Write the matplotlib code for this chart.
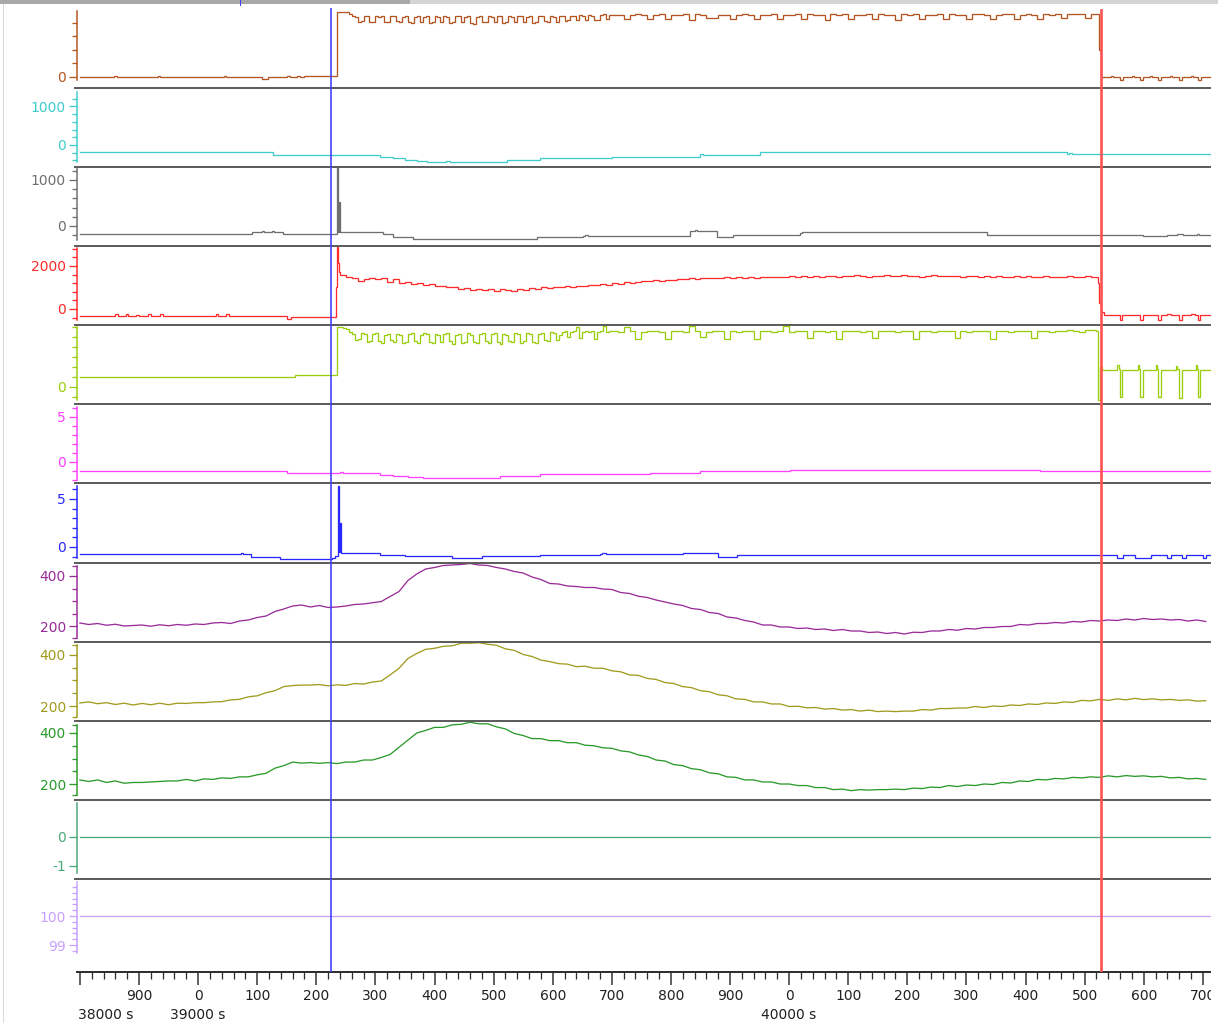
import numpy as np
import matplotlib
matplotlib.use('Agg')
import matplotlib.pyplot as plt
from matplotlib.lines import Line2D
from matplotlib.patches import Rectangle
from matplotlib.transforms import blended_transform_factory

plt.rcParams['font.family'] = ['DejaVu Sans']
plt.rcParams['font.size'] = 10

# ---------------- data ----------------
t15 = np.arange(38800, 40720, 15)          # sampling grid of the smooth channels
t5_dense = np.arange(39240, 39700, 5)      # dense segment grid
t10_high = np.arange(39700, 40530, 10)     # sparse segment grid
t10_red = np.arange(39240, 40530, 10)

brown_pre_t = [38800, 38858, 38862, 38932, 38936, 39043, 39047, 39108, 39118, 39150, 39156, 39168, 39172, 39180, 39235]
brown_pre_v = [0, 60, 0, 60, 0, 50, 0, -130, -20, 80, -10, 80, 20, 90, 4850]
brown_dense_v = [4850, 4800, 4780, 4700,
                 4500, 4450, 4100, 4150, 4500, 4550, 4050, 4100,
                 4500, 4450, 4500, 4050, 4100, 4500, 4550, 4150,
                 4050, 4450, 4500, 4100, 4000, 4450, 4500, 4050,
                 4450, 4500, 4000, 4050, 4500, 4450, 4100, 4500,
                 4450, 4000, 4050, 4500, 4550, 4050, 4450, 4500,
                 4000, 3950, 4450, 4500, 4050, 4100, 4500, 4450,
                 4050, 4500, 4550, 4000, 4050, 4500, 4450, 4100,
                 4500, 4550, 4050, 4450, 4500, 4000, 4100, 4500,
                 4550, 4150, 4100, 4500, 4450, 4050, 4550, 4500,
                 4150, 4200, 4550, 4500, 4200, 4600, 4550, 4250,
                 4600, 4550, 4200, 4250, 4600, 4650, 4300, 4600]
brown_high_v = [4600, 4620, 4300, 4600, 4650, 4600, 4280, 4600,
                4650, 4300, 4600, 4600, 4700, 4250, 4650, 4600,
                4350, 4400, 4600, 4620, 4280, 4600, 4650, 4600,
                4300, 4620, 4600, 4650, 4300, 4600, 4620, 4700,
                4300, 4650, 4600, 4620, 4250, 4650, 4600, 4650,
                4300, 4600, 4620, 4650, 4280, 4650, 4600, 4620,
                4250, 4650, 4600, 4650, 4300, 4620, 4600, 4650,
                4280, 4650, 4620, 4600, 4300, 4650, 4650, 4620,
                4280, 4600, 4650, 4650, 4300, 4620, 4650, 4600,
                4300, 4650, 4620, 4700, 4350, 4650, 4700, 4650,
                4400, 4700, 4650]
brown_post_t = [40524, 40527, 40545, 40548, 40560, 40565, 40580, 40584, 40594, 40599, 40610, 40614, 40625,
                40630, 40645, 40648, 40660, 40665, 40680, 40684, 40692, 40697, 40725]
brown_post_v = [2000, 30, 60, 20, -200, 20, 70, 20, -200, 30, 60, 20, -220,
                20, 60, 20, -200, 30, 70, 20, -200, 30, 30]

cyan_t = [38800, 38836, 38842, 39003, 39030, 39127, 39308, 39330, 39350, 39370, 39388, 39420, 39426,
          39516, 39523, 39578, 39700, 39849, 39855, 39951, 40470, 40474, 40478, 40725]
cyan_v = [-190, -170, -190, -170, -190, -256, -300, -340, -380, -410, -435, -410, -435,
          -435, -384, -333, -300, -230, -250, -190, -230, -210, -230, -230]

gray_t = [38800, 39091, 39108, 39112, 39125, 39129, 39144, 39235, 39237, 39239, 39240, 39242, 39313, 39330,
          39364, 39421, 39516, 39573, 39651, 39655, 39660, 39832, 39840, 39845, 39871, 39878, 39905, 40018,
          40021, 40335, 40599, 40640, 40656, 40667, 40690, 40694, 40725]
gray_v = [-180, -137, -110, -137, -110, -137, -180, 1400, -137, 525, -120, -137, -180, -232,
          -275, -290, -275, -245, -217, -200, -217, -110, -90, -110, -100, -232, -195, -160,
          -140, -195, -215, -195, -170, -195, -170, -195, -195]

red_pre_t = [38800, 38860, 38864, 38878, 38882, 38895, 38900, 38915, 38920, 38935, 38940, 39030, 39034,
             39048, 39052, 39150, 39158, 39233, 39235, 39237, 39238]
red_pre_v = [-330, -250, -330, -240, -330, -260, -330, -250, -330, -240, -330, -250, -330,
             -250, -330, -450, -380, 1000, 2900, 2140, 1700]
red_high_v = [1580, 1500, 1450, 1280, 1400, 1420, 1380, 1420, 1250, 1380,
              1210, 1260, 1150, 1200, 1100, 1140, 1050, 1080, 1000, 1040,
              950, 990, 900, 940, 880, 920, 860, 910, 880, 850,
              920, 880, 960, 940, 1000, 980, 1030, 1010, 1060, 1040,
              1090, 1070, 1120, 1100, 1150, 1130, 1200, 1180, 1250, 1230,
              1260, 1300, 1280, 1330, 1310, 1370, 1340, 1400, 1380, 1420,
              1400, 1440, 1420, 1460, 1430, 1470, 1440, 1480, 1450, 1500,
              1460, 1490, 1470, 1510, 1480, 1500, 1520, 1490, 1530, 1510,
              1540, 1500, 1530, 1550, 1510, 1540, 1520, 1560, 1530, 1500,
              1550, 1530, 1560, 1520, 1540, 1570, 1530, 1550, 1510, 1540,
              1560, 1530, 1550, 1520, 1540, 1500, 1530, 1550, 1510, 1520,
              1500, 1530, 1490, 1510, 1540, 1500, 1520, 1480, 1510, 1530,
              1490, 1510, 1500, 1530, 1480, 1500, 1520, 1490, 1510]
red_post_t = [40522, 40525, 40528, 40532, 40560, 40564, 40594, 40598, 40625, 40629, 40640, 40646,
              40660, 40664, 40680, 40686, 40692, 40696, 40725]
red_post_v = [1200, 300, -150, -300, -500, -300, -500, -300, -500, -300, -230, -300,
              -500, -300, -230, -300, -500, -300, -300]

yg_pre_t = [38800, 39164, 39235]
yg_pre_v = [20, 24, 120]
yg_dense_v = [120, 118, 116, 110,
              106, 94, 96, 108, 106, 90, 92, 106,
              108, 92, 88, 104, 106, 94, 90, 106,
              104, 88, 90, 106, 108, 92, 88, 104,
              108, 106, 90, 88, 106, 104, 90, 106,
              108, 92, 86, 104, 106, 88, 90, 108,
              104, 90, 88, 106, 108, 92, 88, 106,
              108, 90, 86, 106, 104, 92, 90, 108,
              106, 88, 92, 108, 106, 90, 88, 106,
              108, 94, 92, 110, 108, 94, 104, 110,
              112, 100, 110, 112, 120, 98, 110, 112,
              110, 112, 96, 110, 112, 122, 110, 112]
yg_high_v = [112, 110, 120, 112, 96, 110, 112, 112,
             110, 96, 112, 112, 110, 122, 112, 100,
             110, 112, 112, 96, 112, 110, 112, 112,
             96, 112, 112, 110, 112, 122, 110, 112,
             112, 98, 112, 112, 110, 112, 96, 112,
             112, 112, 110, 112, 98, 112, 112, 112,
             110, 112, 112, 96, 112, 112, 110, 112,
             112, 112, 98, 112, 110, 112, 112, 112,
             96, 112, 112, 110, 112, 112, 112, 98,
             112, 112, 110, 112, 112, 114, 112, 110,
             114, 114, 112]
yg_post_t = [40523, 40526, 40530, 40555, 40558, 40560, 40564, 40590, 40592, 40594, 40598, 40620, 40622,
             40625, 40629, 40655, 40657, 40660, 40664, 40688, 40690, 40692, 40696, 40725]
yg_post_v = [-26, 40, 34, 44, 36, -20, 34, 44, 36, -20, 34, 44, 36,
             -20, 34, 42, 36, -22, 34, 44, 36, -20, 34, 34]

mag_t = [38800, 39150, 39240, 39246, 39308, 39330, 39355, 39380, 39400, 39511, 39578, 39765, 39849,
         40001, 40005, 40424, 40725]
mag_v = [-1.0, -1.25, -1.15, -1.25, -1.44, -1.6, -1.7, -1.78, -1.8, -1.55, -1.33, -1.17, -1.0,
         -0.85, -0.9, -1.0, -1.0]

blue_t = [38800, 39072, 39076, 39090, 39139, 39226, 39232, 39236, 39238, 39240, 39242, 39308, 39350,
          39430, 39480, 39578, 39680, 39684, 39690, 39820, 39880, 39912, 40528, 40555, 40565, 40585,
          40612, 40640, 40646, 40665, 40672, 40700, 40706, 40725]
blue_v = [-0.76, -0.65, -0.76, -1.0, -1.28, -1.1, -0.9, 6.3, -0.5, 2.47, -0.66, -0.83, -0.95,
          -1.2, -0.9, -0.83, -0.76, -0.6, -0.76, -0.66, -1.0, -0.83, -0.83, -1.15, -0.83, -1.15,
          -0.83, -1.15, -0.83, -1.15, -0.83, -1.15, -0.83, -0.83]

purple_v = [212, 206, 210, 203, 207, 200, 202, 204, 199, 205, 201, 206, 203, 208, 206, 212,
            214, 210, 220, 224, 234, 240, 258, 268, 280, 284, 276, 282, 274, 276, 280, 286,
            288, 293, 298, 318, 338, 382, 408, 428, 434, 442, 444, 446, 450, 444, 442, 434,
            428, 418, 412, 396, 386, 370, 368, 360, 358, 354, 354, 348, 346, 334, 330, 319,
            314, 304, 296, 288, 282, 270, 266, 254, 250, 236, 232, 222, 216, 204, 204, 196,
            196, 190, 192, 186, 188, 182, 186, 180, 180, 174, 176, 170, 174, 168, 175, 174,
            180, 180, 186, 183, 190, 188, 194, 194, 198, 198, 206, 204, 210, 210, 214, 212,
            218, 216, 222, 220, 224, 222, 228, 224, 230, 226, 228, 224, 226, 220, 224, 218]
olive_v = [212, 216, 209, 213, 206, 211, 204, 210, 205, 211, 205, 211, 210, 213, 213, 216,
           217, 224, 226, 236, 240, 252, 260, 276, 280, 282, 282, 284, 279, 283, 281, 288,
           286, 294, 298, 322, 348, 386, 406, 422, 426, 434, 436, 446, 446, 448, 442, 438,
           424, 418, 402, 394, 380, 374, 366, 364, 354, 356, 348, 348, 338, 334, 322, 320,
           308, 304, 292, 288, 276, 272, 260, 256, 244, 240, 228, 226, 216, 216, 208, 208,
           198, 199, 193, 194, 188, 190, 184, 186, 180, 184, 178, 180, 178, 180, 180, 186,
           184, 190, 190, 192, 192, 198, 194, 200, 198, 204, 202, 208, 206, 212, 210, 216,
           214, 222, 220, 226, 222, 228, 224, 230, 225, 228, 224, 226, 222, 224, 219, 221]
green_v = [216, 210, 216, 206, 212, 203, 206, 206, 208, 210, 212, 212, 218, 212, 220, 218,
           224, 222, 228, 228, 236, 242, 262, 272, 286, 282, 284, 281, 284, 280, 286, 286,
           294, 294, 304, 316, 344, 372, 400, 410, 422, 422, 432, 434, 442, 436, 436, 424,
           416, 398, 390, 378, 378, 370, 370, 362, 362, 352, 350, 342, 340, 330, 326, 314,
           308, 294, 290, 276, 272, 260, 256, 244, 240, 228, 226, 216, 216, 208, 208, 200,
           200, 194, 194, 186, 186, 178, 180, 174, 178, 176, 178, 178, 180, 178, 184, 182,
           188, 186, 194, 190, 196, 194, 200, 198, 206, 204, 212, 210, 218, 216, 222, 220,
           226, 224, 228, 226, 232, 228, 233, 230, 232, 228, 230, 224, 226, 220, 222, 218]

teal_t = [38800, 40725]
teal_v = [0, 0]
lav_t = [38800, 40725]
lav_v = [100, 100]

cursor_blue = 39225
cursor_red = 40528

x_major = np.arange(38800, 40701, 100)
x_minor = np.arange(38800, 40721, 20)
x_second_row = [(39000, '39000 s'), (40000, '40000 s')]

# assemble series
brown_t = brown_pre_t + list(t5_dense) + list(t10_high) + brown_post_t
brown_v = brown_pre_v + brown_dense_v + brown_high_v + brown_post_v
red_t = red_pre_t + list(t10_red) + red_post_t
red_v = red_pre_v + red_high_v + red_post_v
yg_t = yg_pre_t + list(t5_dense) + list(t10_high) + yg_post_t
yg_v = yg_pre_v + yg_dense_v + yg_high_v + yg_post_v

panels = [
    dict(t=brown_t, v=brown_v, c='#B4541E', ylim=(-815, 5044), bounds=(-222, 4889),
         major=[0], minor=[1000, 2000, 3000, 4000], ds='steps-post'),
    dict(t=cyan_t, v=cyan_v, c='#40CCCC', ylim=(-574, 1480), bounds=(-441, 1376),
         major=[0, 1000], minor=[-400, -200, 200, 400, 600, 800, 1200], ds='steps-post'),
    dict(t=gray_t, v=gray_v, c='#6E6E6E', ylim=(-439, 1280), bounds=(-304, 1261),
         major=[0, 1000], minor=[-200, 200, 400, 600, 800, 1200], ds='steps-post'),
    dict(t=red_t, v=red_v, c='#FF2A2A', ylim=(-758, 2920), bounds=(-512, 2837),
         major=[0, 2000], minor=[-400, 400, 800, 1200, 1600, 2400, 2800], ds='steps-post'),
    dict(t=yg_t, v=yg_v, c='#9ACD0A', ylim=(-34.8, 123.4), bounds=(-26, 120),
         major=[0], minor=[-20, 20, 40, 60, 80, 100, 120], ds='steps-post'),
    dict(t=mag_t, v=mag_v, c='#FF40FF', ylim=(-2.39, 6.4), bounds=(-2.0, 6.11),
         major=[0, 5], minor=[-2, -1, 1, 2, 3, 4, 6], ds='steps-post'),
    dict(t=blue_t, v=blue_v, c='#2828FF', ylim=(-1.63, 6.61), bounds=(-1.15, 6.35),
         major=[0, 5], minor=[-1, 1, 2, 3, 4, 6], ds='steps-post'),
    dict(t=t15, v=purple_v, c='#992C99', ylim=(137.2, 453.6), bounds=(152, 440),
         major=[200, 400], minor=[152, 250, 300, 350, 440], ds='default'),
    dict(t=t15, v=olive_v, c='#A09B1E', ylim=(142, 452), bounds=(157, 439),
         major=[200, 400], minor=[157, 250, 300, 350, 439], ds='default'),
    dict(t=t15, v=green_v, c='#2A9A2A', ylim=(137.7, 447.8), bounds=(157, 431),
         major=[200, 400], minor=[157, 250, 300, 350, 431], ds='default'),
    dict(t=teal_t, v=teal_v, c='#4AA878', ylim=(-1.45, 1.28), bounds=(-1.24, 1.17),
         major=[-1, 0], minor=[], ds='default'),
    dict(t=lav_t, v=lav_v, c='#C8A0FF', ylim=(98.55, 101.28), bounds=(98.72, 101.17),
         major=[99, 100], minor=[98.8, 99.2, 99.4, 99.6, 99.8, 100.2, 100.4, 100.6, 100.8, 101.0],
         ds='default'),
]

# ---------------- layout ----------------
W, H = 1218, 1023
DPI = 100
fig = plt.figure(figsize=(W / DPI, H / DPI), dpi=DPI)
fig.patch.set_facecolor('white')

def fx(px):
    return px / W

def fy(py):
    return 1 - py / H

XL_PX, XR_PX = 77, 1218
XLIM = (38795.1, 40725.7)
P_TOP, P_H = 8.9, 79.1
PT = 0.72  # points per pixel

def fmt_num(v):
    if float(v).is_integer():
        return str(int(v))
    return str(v)

for i, p in enumerate(panels):
    top = P_TOP + P_H * i
    ax = fig.add_axes([fx(XL_PX), fy(top + P_H), fx(XR_PX - XL_PX), P_H / H])
    ax.set_xlim(XLIM)
    ax.set_ylim(p['ylim'])
    ax.patch.set_alpha(0)
    for s in ['top', 'right', 'bottom']:
        ax.spines[s].set_visible(False)
    ax.spines['left'].set_color(p['c'])
    ax.spines['left'].set_linewidth(1.5 * PT)
    ax.spines['left'].set_bounds(*p['bounds'])
    ax.set_xticks([])
    ax.set_yticks(p['major'])
    ax.set_yticklabels([fmt_num(v) for v in p['major']])
    ax.set_yticks(p['minor'], minor=True)
    ax.tick_params(axis='y', which='major', length=8 * PT, width=1.3 * PT, color=p['c'],
                   labelcolor=p['c'], labelsize=10, pad=3 * PT)
    ax.tick_params(axis='y', which='minor', length=5 * PT, width=1.3 * PT, color=p['c'])
    ax.plot(p['t'], p['v'], drawstyle=p['ds'], color=p['c'], lw=1.3 * PT,
            solid_joinstyle='miter')

# x ruler
RULER_Y = 972
axr = fig.add_axes([fx(XL_PX), fy(RULER_Y), fx(XR_PX - XL_PX), 1 / H])
axr.set_xlim(XLIM)
axr.patch.set_alpha(0)
for s in ['top', 'right', 'left']:
    axr.spines[s].set_visible(False)
axr.spines['bottom'].set_color('#303030')
axr.spines['bottom'].set_linewidth(2 * PT)
axr.set_yticks([])
axr.set_xticks(x_major)
axr.set_xticklabels(['' if v == x_major[0] else str(int(v) % 1000) for v in x_major])
axr.set_xticks(x_minor, minor=True)
axr.tick_params(axis='x', which='major', length=13 * PT, width=1.5 * PT, color='#303030',
                labelsize=10, labelcolor='#202020', pad=4 * PT)
axr.tick_params(axis='x', which='minor', length=7 * PT, width=1.3 * PT, color='#303030')
tr = blended_transform_factory(axr.transData, fig.transFigure)
axr.text(XLIM[0] + 1, fy(1015), '38000 s', transform=tr, ha='left', va='center',
         fontsize=10, color='#202020')
for xv, lab in x_second_row:
    axr.text(xv, fy(1015), lab, transform=tr, ha='center', va='center', fontsize=10, color='#202020')

# separators
for k in range(1, 12):
    y = round(P_TOP + P_H * k)
    fig.add_artist(Line2D([fx(75), fx(1211)], [fy(y), fy(y)], color='#5E5E5E', lw=2 * PT, zorder=5))

# cursor overlay
axo = fig.add_axes([fx(XL_PX), fy(RULER_Y), fx(XR_PX - XL_PX), (RULER_Y - 8) / H], zorder=10)
axo.set_xlim(XLIM)
axo.set_ylim(0, 1)
axo.axis('off')
axo.axvline(cursor_blue, color='#3C3CFF', lw=1.6 * PT)
axo.axvline(cursor_red, ymax=(RULER_Y - 10) / (RULER_Y - 8), color='#FF5050', lw=2.6 * PT)

# window frame bits
fig.add_artist(Rectangle((0, fy(4)), fx(410), 4 / H, transform=fig.transFigure,
                         facecolor='#A8A8A8', edgecolor='none', zorder=30))
fig.add_artist(Rectangle((fx(410), fy(4)), 1 - fx(410), 4 / H, transform=fig.transFigure,
                         facecolor='#D4D4D4', edgecolor='none', zorder=30))
fig.add_artist(Line2D([fx(2.5), fx(2.5)], [0, fy(4)], color='#D8D8D8', lw=1 * PT, zorder=30))
fig.add_artist(Line2D([fx(240), fx(240)], [fy(0), fy(5)], color='#3C3CFF', lw=1 * PT, zorder=31))
# right clip
fig.add_artist(Rectangle((fx(1211), 0), 1 - fx(1211), fy(4), transform=fig.transFigure,
                         facecolor='white', edgecolor='none', zorder=40))

fig.savefig('out.png', dpi=DPI)
